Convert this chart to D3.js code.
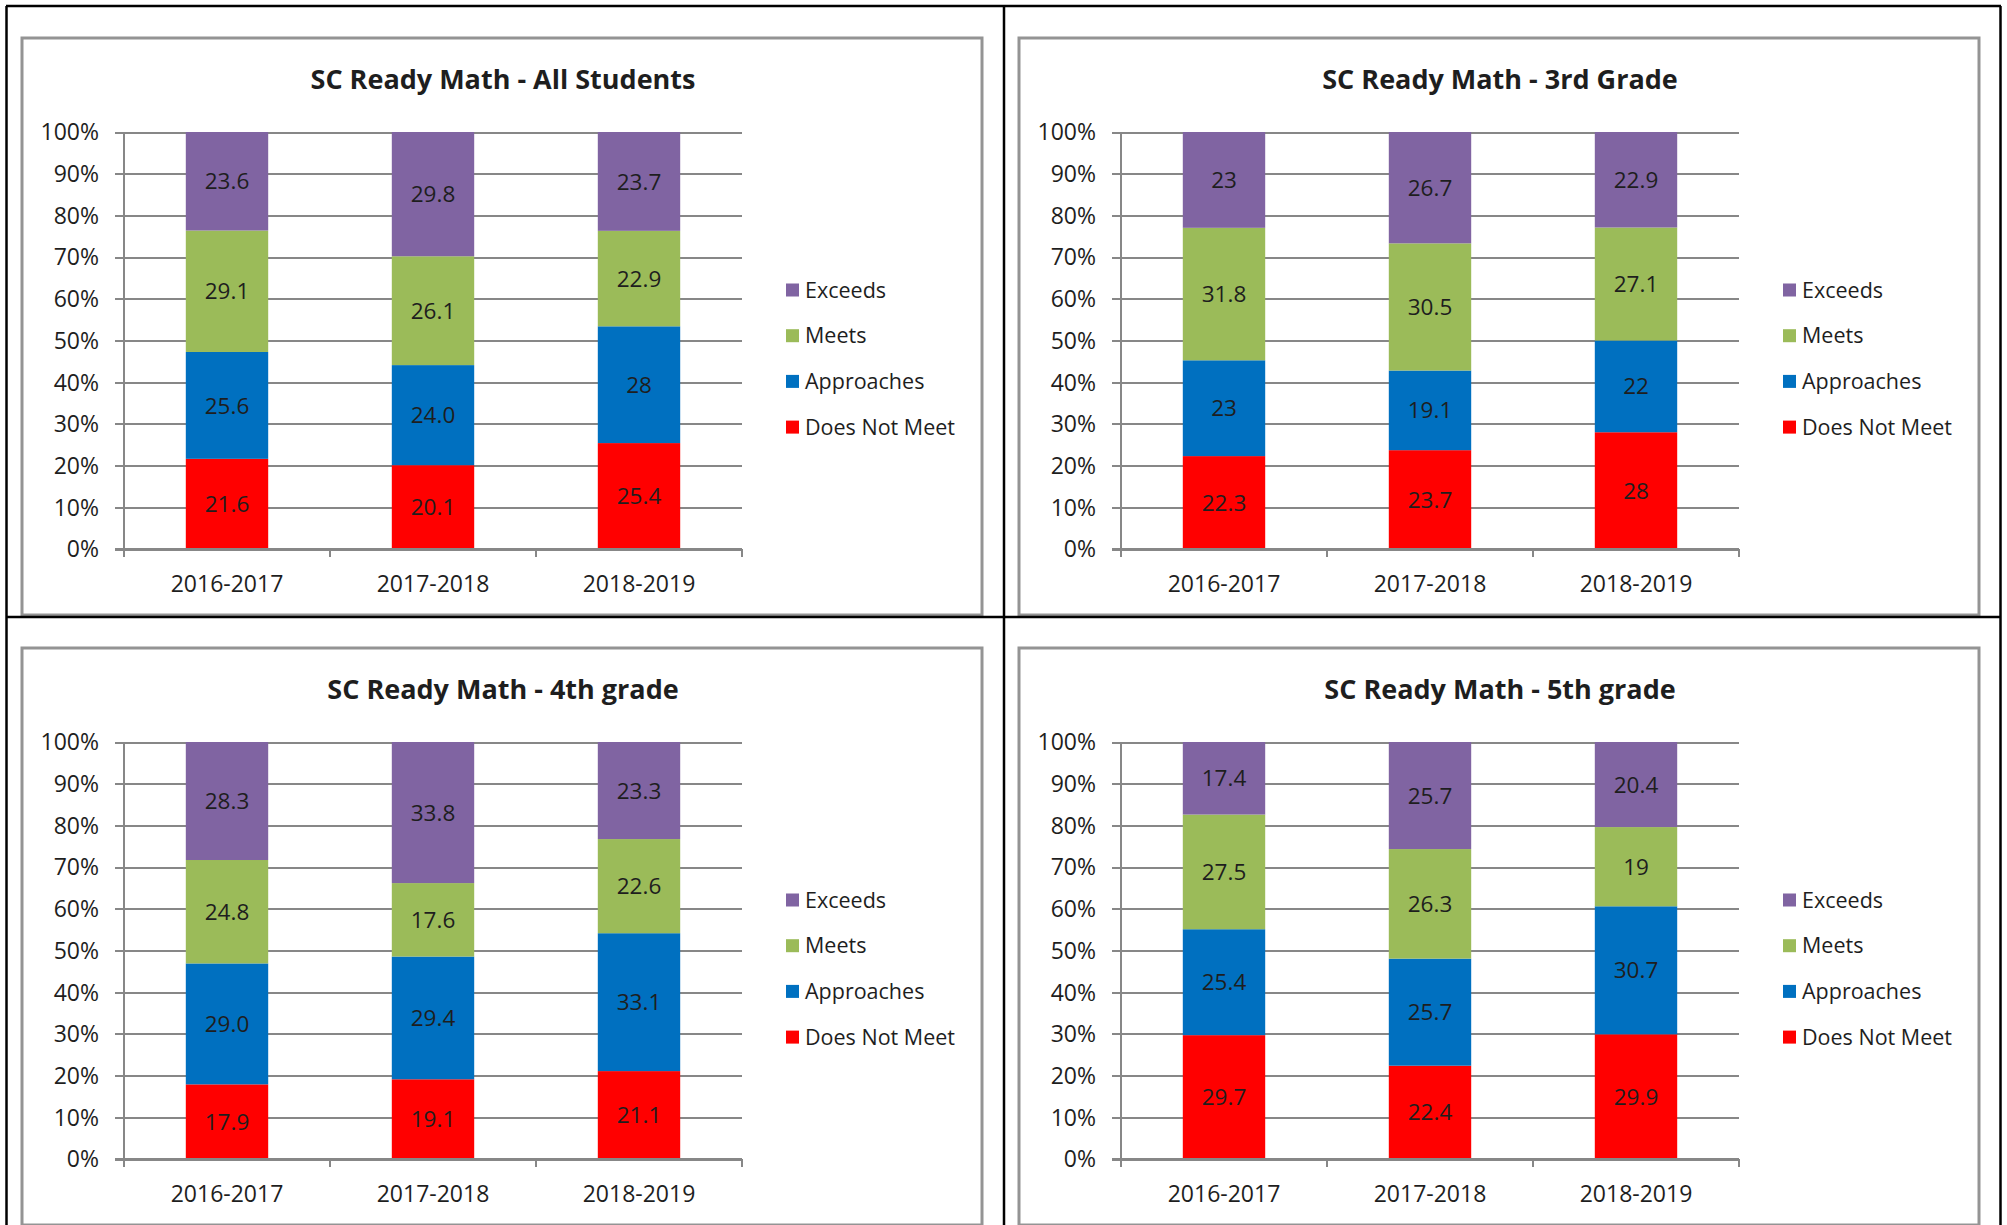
<!DOCTYPE html>
<html lang="en">
<head>
  <meta charset="utf-8">
  <title>SC Ready Math</title>
  <style>
    body {
      margin: 0;
      background: #fff;
    }

    svg text {
      font-family: "Open Sans", sans-serif;
      fill: #1e1e1e;
    }

    .title {
      font-size: 27px;
      font-weight: bold;
      text-anchor: middle;
    }

    .grid line, .axis-line {
      stroke: #878787;
      stroke-width: 2;
      shape-rendering: crispEdges;
    }

    .ylabel { font-size: 23px; text-anchor: end; }
    .xlabel { font-size: 23px; text-anchor: middle; }
    .vlabel { font-size: 22.5px; text-anchor: middle; }
    .legend text { font-size: 21.5px; }
  </style>
</head>
<body>
  <div id="chart"></div>

  <script src="https://d3js.org/d3.v7.min.js"></script>
  <script>
    // categories and series
    var categories = ["2016-2017", "2017-2018", "2018-2019"];
    var seriesNames = ["Does Not Meet", "Approaches", "Meets", "Exceeds"];
    var seriesColors = ["#ff0000", "#0070c0", "#9bbb59", "#8064a2"];
    var yTickValues = [0, 0.1, 0.2, 0.3, 0.4, 0.5, 0.6, 0.7, 0.8, 0.9, 1];
    var yTickLabels = ["0%", "10%", "20%", "30%", "40%", "50%", "60%", "70%", "80%", "90%", "100%"];

    // values per chart, rows follow seriesNames, columns follow categories
    // (kept as printed, e.g. "24.0" and "28")
    var allStudents = [
      ["21.6", "20.1", "25.4"],
      ["25.6", "24.0", "28"],
      ["29.1", "26.1", "22.9"],
      ["23.6", "29.8", "23.7"]
    ];
    var grade3 = [
      ["22.3", "23.7", "28"],
      ["23", "19.1", "22"],
      ["31.8", "30.5", "27.1"],
      ["23", "26.7", "22.9"]
    ];
    var grade4 = [
      ["17.9", "19.1", "21.1"],
      ["29.0", "29.4", "33.1"],
      ["24.8", "17.6", "22.6"],
      ["28.3", "33.8", "23.3"]
    ];
    var grade5 = [
      ["29.7", "22.4", "29.9"],
      ["25.4", "25.7", "30.7"],
      ["27.5", "26.3", "19"],
      ["17.4", "25.7", "20.4"]
    ];

    var charts = [
      { title: "SC Ready Math - All Students", values: allStudents, col: 0, row: 0 },
      { title: "SC Ready Math - 3rd Grade", values: grade3, col: 1, row: 0 },
      { title: "SC Ready Math - 4th grade", values: grade4, col: 0, row: 1 },
      { title: "SC Ready Math - 5th grade", values: grade5, col: 1, row: 1 }
    ];

    var W = 2007, H = 1225;
    var dx = 997, dy = 610;
    var plotLeft = 124, plotRight = 742, plotTop = 132, plotBottom = 549;

    var svg = d3.select("#chart").append("svg")
        .attr("width", W)
        .attr("height", H);

    var x = d3.scaleBand()
        .domain(categories)
        .range([plotLeft, plotRight])
        .paddingInner(0.6)
        .paddingOuter(0.3);

    var y = d3.scaleLinear()
        .domain([0, 1])
        .range([plotBottom, plotTop]);

    charts.forEach(function(c) {
      var g = svg.append("g")
          .attr("transform", "translate(" + (c.col * dx) + "," + (c.row * dy) + ")");

      // chart area frame
      g.append("rect")
          .attr("x", 22).attr("y", 38)
          .attr("width", 960).attr("height", 577)
          .attr("fill", "#fff")
          .attr("stroke", "#949494")
          .attr("stroke-width", 3);

      g.append("text")
          .attr("class", "title")
          .attr("x", 503).attr("y", 89)
          .text(c.title);

      // gridlines + y labels
      var yAxis = g.append("g")
          .attr("class", "grid")
          .attr("transform", "translate(" + plotLeft + ",0)")
          .call(d3.axisLeft(y)
            .tickValues(yTickValues)
            .tickFormat(function(d, i) { return yTickLabels[i]; })
            .tickSize(0));
      yAxis.select(".domain").remove();
      yAxis.attr("font-family", null).attr("font-size", null);
      yAxis.selectAll(".tick line")
          .attr("x1", -9).attr("x2", plotRight - plotLeft);
      yAxis.selectAll(".tick text")
          .attr("class", "ylabel")
          .attr("x", -25)
          .attr("dy", "0.34em")
          .attr("fill", null);

      // stacked bars (100%)
      var rows = categories.map(function(cat, j) {
        var r = { cat: cat };
        seriesNames.forEach(function(s, k) { r[s] = +c.values[k][j]; });
        return r;
      });
      var stacked = d3.stack()
          .keys(seriesNames)
          .offset(d3.stackOffsetExpand)(rows);

      var layers = g.selectAll(".layer")
          .data(stacked)
          .enter().append("g")
          .attr("class", "layer");

      layers.selectAll("rect")
          .data(function(d) { return d; })
          .enter().append("rect")
          .attr("fill", function() { return seriesColors[d3.select(this.parentNode).datum().index]; })
          .attr("x", function(d) { return x(d.data.cat); })
          .attr("width", x.bandwidth())
          .attr("y", function(d) { return y(d[1]); })
          .attr("height", function(d) { return y(d[0]) - y(d[1]); });

      layers.each(function(layer, k) {
        d3.select(this).selectAll("text")
            .data(layer)
            .enter().append("text")
            .attr("class", "vlabel")
            .attr("x", function(d) { return x(d.data.cat) + x.bandwidth() / 2; })
            .attr("y", function(d) { return (y(d[0]) + y(d[1])) / 2; })
            .attr("dy", "0.36em")
            .text(function(d, j) { return c.values[k][j]; });
      });

      // axis lines
      g.append("line").attr("class", "axis-line")
          .attr("x1", plotLeft).attr("x2", plotLeft)
          .attr("y1", plotTop).attr("y2", plotBottom + 8);
      g.append("line").attr("class", "axis-line")
          .attr("x1", plotLeft - 9).attr("x2", plotRight)
          .attr("y1", plotBottom).attr("y2", plotBottom);
      d3.range(categories.length + 1).forEach(function(i) {
        var tx = plotLeft + i * x.step();
        g.append("line").attr("class", "axis-line")
            .attr("x1", tx).attr("x2", tx)
            .attr("y1", plotBottom).attr("y2", plotBottom + 8);
      });

      g.selectAll(".xlabel")
          .data(categories)
          .enter().append("text")
          .attr("class", "xlabel")
          .attr("x", function(d) { return x(d) + x.bandwidth() / 2; })
          .attr("y", 592)
          .text(function(d) { return d; });

      // legend, Exceeds on top
      var legend = g.append("g").attr("class", "legend");
      var order = seriesNames.slice().reverse();
      order.forEach(function(name, i) {
        var cy = 290 + i * 45.7;
        legend.append("rect")
            .attr("x", 786).attr("y", cy - 6.5)
            .attr("width", 13).attr("height", 13)
            .attr("fill", seriesColors[seriesNames.indexOf(name)]);
        legend.append("text")
            .attr("x", 805).attr("y", cy)
            .attr("dy", "0.36em")
            .text(name);
      });
    });

    // black page grid
    var black = svg.append("g")
        .attr("stroke", "#000")
        .attr("stroke-width", 2.5);
    black.append("line").attr("x1", 6).attr("x2", 2001).attr("y1", 6).attr("y2", 6);
    black.append("line").attr("x1", 6.5).attr("x2", 6.5).attr("y1", 6).attr("y2", H);
    black.append("line").attr("x1", 2000.5).attr("x2", 2000.5).attr("y1", 6).attr("y2", H);
    black.append("line").attr("x1", 1004).attr("x2", 1004).attr("y1", 6).attr("y2", H);
    black.append("line").attr("x1", 6).attr("x2", 2001).attr("y1", 617).attr("y2", 617);
  </script>
</body>
</html>
